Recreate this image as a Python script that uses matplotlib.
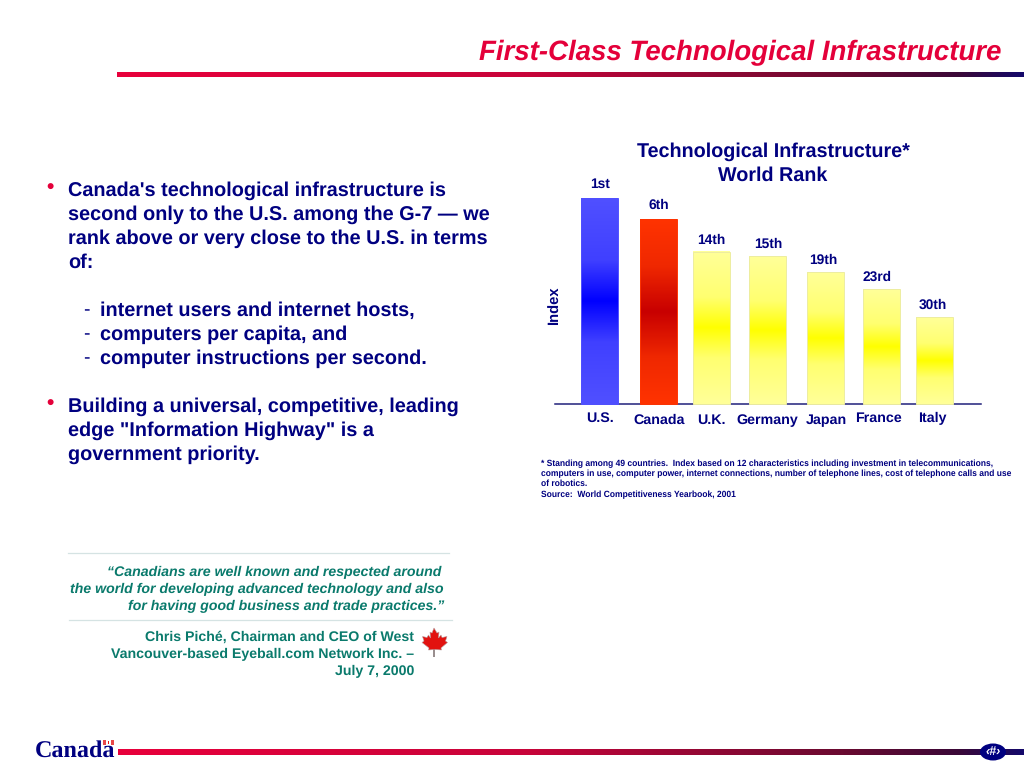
import numpy as np
import matplotlib
matplotlib.use("Agg")
import matplotlib.pyplot as plt
from matplotlib.colors import LinearSegmentedColormap as LSC
from matplotlib.patches import Ellipse, Polygon, Rectangle
from matplotlib.transforms import ScaledTranslation

plt.rcParams['font.family'] = ['Liberation Sans', 'DejaVu Sans']
plt.rcParams['text.hinting'] = 'none'

# ---- data ----
countries = ["U.S.", "Canada", "U.K.", "Germany", "Japan", "France", "Italy"]
index_values = [100, 89.8, 73.8, 71.8, 64.0, 55.8, 42.2]
ranks = ["1st", "6th", "14th", "15th", "19th", "23rd", "30th"]

# ---- layout (pixels) ----
bar_nudge_px = [-0.5, 2.5, -0.5, 0.5, 2.5, 2.5, -0.5]
label_nudge_px = [(0.5, 8), (0.5, 10), (0.5, 10), (-0.5, 10), (0.5, 10), (-3.5, 8), (-2.5, 8)]
rank_nudge_px = [(1, 1), (1, 1), (0.5, -1), (0.5, -1), (-2.5, -1), (-4.5, -1), (-1.5, -1)]
NAVY = "#000080"
TEAL = "#0A7A6C"
W, H, DPI = 1024, 768, 100

fig = plt.figure(figsize=(W / DPI, H / DPI), dpi=DPI, facecolor="white")
bg = fig.add_axes([0, 0, 1, 1])
bg.set_xlim(0, W)
bg.set_ylim(H, 0)
bg.axis("off")


def t(x, y, s, size, color=NAVY, ha="left", **kw):
    kw.setdefault("fontweight", "bold")
    return bg.text(x, y + 1.5, s, fontsize=size, color=color, ha=ha, va="center", **kw)


def hrule(x0, x1, y0, y1):
    cm = LSC.from_list("rule", [(0, "#E8003C"), (0.45, "#C8043A"),
                                (0.8, "#6A0A30"), (0.93, "#3A0838"), (1, "#14086A")])
    g = np.linspace(0, 1, 512).reshape(1, -1)
    bg.imshow(g, extent=(x0, x1, y1, y0), cmap=cm, aspect="auto", zorder=1)
    bg.set_xlim(0, W)
    bg.set_ylim(H, 0)


# ---- header ----
t(1001, 51, "First-Class Technological Infrastructure", 19.9, "#E4003A", ha="right", fontstyle="italic")
hrule(117, 1024, 77, 72)

# ---- left bullets ----
for y, s in zip((189, 213, 237, 261),
                ("Canada's technological infrastructure is",
                 "second only to the U.S. among the G-7 — we",
                 "rank above or very close to the U.S. in terms",
                 "of:")):
    t(68, y, s, 14.27)
t(46, 187, "•", 15, "#E4003A")
for y, s in zip((309, 333, 357),
                ("internet users and internet hosts,",
                 "computers per capita, and",
                 "computer instructions per second.")):
    t(83, y, "-", 14, fontweight="normal")
    t(100, y, s, 14.27)
t(46, 403, "•", 15, "#E4003A")
for y, s in zip((405, 429, 453),
                ('Building a universal, competitive, leading',
                 'edge "Information Highway" is a',
                 'government priority.')):
    t(68, y, s, 14.27)

# ---- quote ----
bg.plot([68, 449], [552.5, 552.5], color="#D5E3E3", lw=0.9)
bg.plot([69, 452], [619.5, 619.5], color="#D5E3E3", lw=0.9)
for x, y, s in ((441, 571, "“Canadians are well known and respected around"),
                (444, 588, "the world for developing advanced technology and also"),
                (444, 605, "for having good business and trade practices.”")):
    t(x, y, s, 10.15, TEAL, ha="right", fontstyle="italic")
for y, s in zip((636, 653, 670),
                ("Chris Piché, Chairman and CEO of West",
                 "Vancouver-based Eyeball.com Network Inc. –",
                 "July 7, 2000")):
    t(414, y, s, 10.2, TEAL, ha="right")

# maple leaf
leaf = [(434, 628), (437, 633), (439, 632), (438.5, 638), (441, 635), (442, 637.5), (447, 636.5),
        (445.5, 641), (447.5, 642.5), (441, 648), (441.5, 650), (435, 649.5), (428.5, 650), (429, 648),
        (422, 642.5), (424, 641), (422.5, 636.5), (427, 637.5), (428.5, 635), (430.5, 638), (430, 632), (432, 633)]
bg.add_patch(Rectangle((433.2, 648), 2.2, 9, fc="#9A8F8F", ec="none", zorder=2))
bg.add_patch(Polygon(leaf, closed=True, fc="#E2120F", ec="#B8A0A0", lw=0.4, zorder=3))

# ---- footer ----
t(35, 749, "Canada", 17.4, NAVY, family="Liberation Serif")
bg.add_patch(Rectangle((103, 739.5), 10.5, 5.5, fc="#E84848", ec="none", zorder=3))
bg.add_patch(Rectangle((105.5, 740), 5.5, 4.5, fc="white", ec="none", zorder=4))
bg.add_patch(Rectangle((107.5, 741), 1.5, 2.5, fc="#E2120F", ec="none", zorder=5))
hrule(118, 1024, 755, 749)
bg.add_patch(Ellipse((993, 752), 26, 17, fc=NAVY, ec="none", zorder=3))
bg.text(993, 752, "‹#›", fontsize=9, color="white", ha="center", va="center",
        fontweight="bold", fontstyle="italic", zorder=4)

# ---- chart ----
LEFT, RIGHT, BASE, TOP = 555, 981, 404, 198
ax = fig.add_axes([LEFT / W, 1 - BASE / H, (RIGHT - LEFT) / W, (BASE - TOP) / H])
ax.patch.set_alpha(0)
STEP = 55.8
ax.set_xlim((LEFT - 600) / STEP, (RIGHT - 600) / STEP)
ax.set_ylim(0, 100)
for side in ("top", "left", "right"):
    ax.spines[side].set_visible(False)
ax.spines["bottom"].set_color("#20207A")
ax.spines["bottom"].set_linewidth(1.1)
ax.set_yticks([])

positions = [i + n / STEP for i, n in enumerate(bar_nudge_px)]
ax.set_xticks(positions, countries)
ax.tick_params(axis="x", length=0, pad=0, labelsize=10.3, labelcolor=NAVY)
for lab, (dx, dy) in zip(ax.get_xticklabels(), label_nudge_px):
    lab.set_fontweight("bold")
    lab.set_transform(lab.get_transform() + ScaledTranslation(dx / DPI, -dy / DPI, fig.dpi_scale_trans))

cmaps = [LSC.from_list("u", [(0, "#5050FF"), (.3, "#4040FF"), (.5, "#0000FF"), (.7, "#4040FF"), (1, "#5050FF")]),
         LSC.from_list("c", [(0, "#FF3300"), (.25, "#F02800"), (.5, "#C80000"), (.75, "#F02800"), (1, "#FF3300")])] + \
        [LSC.from_list("y", [(0, "#FFFF99"), (.3, "#FFFF70"), (.5, "#FFFF00"), (.7, "#FFFF70"), (1, "#FFFF99")])] * 5
edges = ["#5050FF", "#FF3300"] + ["#EDEDA0"] * 5
grad = np.linspace(0, 1, 256).reshape(-1, 1)
bars = ax.bar(positions, index_values, width=37 / STEP, fc="none", ec="none", zorder=3, clip_on=False)
for bar, cm, ec, v, rank, (dx, dy) in zip(bars, cmaps, edges, index_values, ranks, rank_nudge_px):
    x0 = bar.get_x()
    x1 = x0 + bar.get_width()
    ax.imshow(grad, extent=(x0, x1, 0, v), cmap=cm, aspect="auto", zorder=3, clip_on=False)
    ax.bar(x0 + bar.get_width() / 2, v, width=bar.get_width(), fc="none", ec=ec, lw=0.7, zorder=4, clip_on=False)
    ax.annotate(rank, (x0 + bar.get_width() / 2, v), xytext=(dx * 0.72, (dy + 6) * 0.72),
                textcoords="offset points", ha="center", va="bottom", fontsize=9.9,
                fontweight="bold", color=NAVY, annotation_clip=False)
ax.set_xlim((LEFT - 600) / STEP, (RIGHT - 600) / STEP)
ax.set_ylim(0, 100)
ax.set_ylabel("Index", fontsize=10.6, fontweight="bold", color=NAVY)
ax.yaxis.set_label_coords((562 - LEFT) / (RIGHT - LEFT), (BASE - 306) / (BASE - TOP))

# chart title and footnote
t(773, 150, "Technological Infrastructure*", 14.2, ha="center")
t(773, 174, "World Rank", 14.2, ha="center")
for y, s in zip((462, 472, 482, 493),
                ("* Standing among 49 countries.  Index based on 12 characteristics including investment in telecommunications,",
                 "computers in use, computer power, internet connections, number of telephone lines, cost of telephone calls and use",
                 "of robotics.",
                 "Source:  World Competitiveness Yearbook, 2001")):
    t(541, y, s, 6.14)

fig.savefig("out.png", dpi=DPI, facecolor="white")
